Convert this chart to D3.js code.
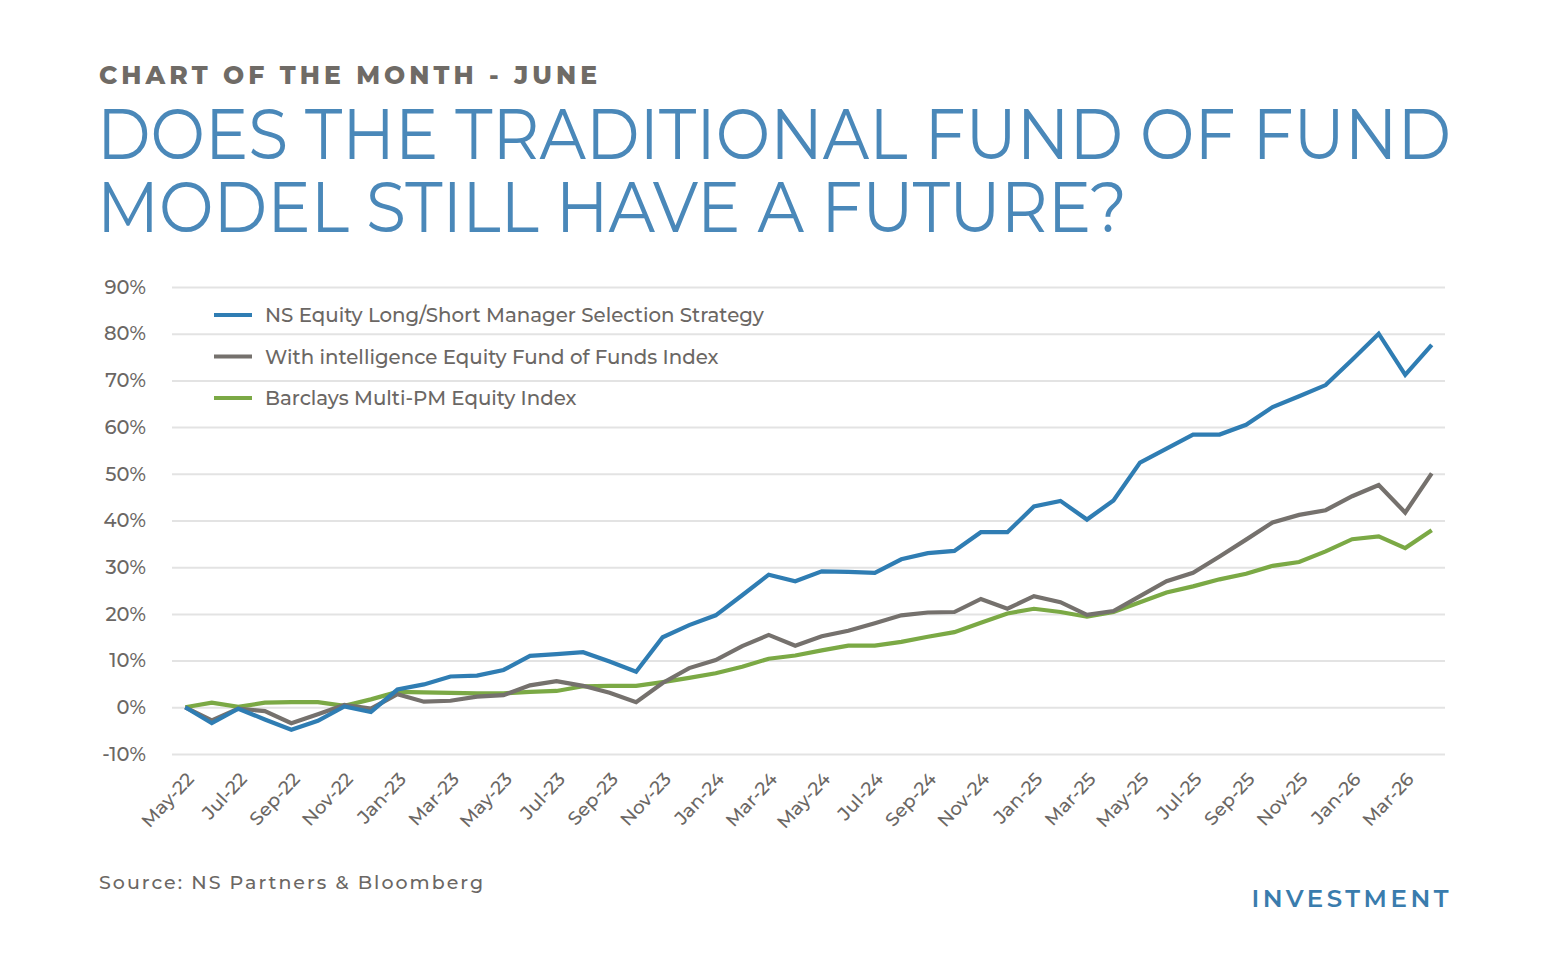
<!DOCTYPE html>
<html>
<head>
<meta charset="utf-8">
<script src="https://cdn.jsdelivr.net/npm/d3@7"></script>
<style>
  body { margin:0; background:#fff; }
  #chart svg { display:block; }
</style>
</head>
<body>
<div id="chart"></div>
<script>
// months May-22 .. Apr-26
const months = ["May-22","Jun-22","Jul-22","Aug-22","Sep-22","Oct-22","Nov-22","Dec-22",
  "Jan-23","Feb-23","Mar-23","Apr-23","May-23","Jun-23","Jul-23","Aug-23","Sep-23","Oct-23","Nov-23","Dec-23",
  "Jan-24","Feb-24","Mar-24","Apr-24","May-24","Jun-24","Jul-24","Aug-24","Sep-24","Oct-24","Nov-24","Dec-24",
  "Jan-25","Feb-25","Mar-25","Apr-25","May-25","Jun-25","Jul-25","Aug-25","Sep-25","Oct-25","Nov-25","Dec-25",
  "Jan-26","Feb-26","Mar-26","Apr-26"]

const nsStrategy = [0,-3.4,-0.3,-2.6,-4.8,-2.9,0.2,-1.0,3.8,4.9,6.6,6.8,8.0,11.0,11.4,11.8,9.8,7.6,
  15.0,17.6,19.7,24.0,28.4,27.0,29.1,29.0,28.8,31.7,33.0,33.5,37.5,37.5,43.0,44.2,40.2,44.3,
  52.4,55.4,58.4,58.4,60.5,64.3,66.6,69.0,74.4,80.0,71.2,77.6]

const withIntelligence = [0,-2.8,-0.3,-0.8,-3.4,-1.5,0.5,-0.3,2.8,1.2,1.4,2.3,2.6,4.7,5.6,4.6,3.1,1.1,
  5.2,8.4,10.1,13.1,15.5,13.2,15.2,16.4,18.0,19.7,20.3,20.4,23.2,21.1,23.8,22.5,19.8,20.6,
  23.8,27.0,28.8,32.3,35.9,39.6,41.2,42.2,45.2,47.6,41.7,50.1]

const barclays = [0,1.0,0.1,1.0,1.1,1.1,0.3,1.7,3.3,3.2,3.1,3.0,3.0,3.3,3.5,4.5,4.6,4.6,
  5.4,6.3,7.3,8.7,10.4,11.1,12.2,13.2,13.2,14.0,15.1,16.1,18.1,20.1,21.1,20.4,19.4,20.4,
  22.5,24.6,25.9,27.4,28.6,30.3,31.1,33.4,36.0,36.6,34.1,37.9]

const yTicks = [-10,0,10,20,30,40,50,60,70,80,90]
const xTickLabels = months.filter((d,i)=>i%2===0 && i<47)

const seriesNames = ["NS Equity Long/Short Manager Selection Strategy",
  "With intelligence Equity Fund of Funds Index",
  "Barclays Multi-PM Equity Index"]
const seriesColors = ["#2f7db3","#75716d","#7ba945"]

const render = ()=>{
const width = 1550
const height = 970
const margin = { top: 287, bottom: 216, left: 172, right: 105 }
const innerWidth = width - margin.left - margin.right
const innerHeight = height - margin.top - margin.bottom
const font = "Montserrat, Lato, 'Open Sans', sans-serif"
const textGrey = "#6b6764"

const svg = d3.select('#chart').append('svg')
  .attr('width', width).attr('height', height)
  .style('font-family', font)

// header
svg.append('text')
  .text("CHART OF THE MONTH - JUNE")
  .attr('x', 99).attr('y', 84)
  .attr('fill', '#6f6b66')
  .attr('font-size', 25).attr('font-weight', 800)
  .attr('textLength', 498).attr('lengthAdjust', 'spacing')

const titleLines = ["DOES THE TRADITIONAL FUND OF FUND", "MODEL STILL HAVE A FUTURE?"]
const titleWidths = [1354, 1030]
titleLines.forEach((t,i)=>{
  svg.append('text')
    .text(t)
    .attr('x', 97).attr('y', 159 + i*73)
    .attr('fill', '#4a88b9')
    .attr('font-size', 71).attr('font-weight', 400)
    .attr('textLength', titleWidths[i]).attr('lengthAdjust', 'spacingAndGlyphs')
})

const g = svg.append('g')
  .attr('transform', `translate(${margin.left},${margin.top})`)

const xScale = d3.scalePoint()
  .domain(months)
  .range([0, innerWidth])
  .padding(0.5)

const yScale = d3.scaleLinear()
  .domain([-10, 90])
  .range([innerHeight, 0])

// y axis with grid lines
const yAxis = d3.axisLeft(yScale)
  .tickValues(yTicks)
  .tickSize(-innerWidth)
  .tickPadding(26)
  .tickFormat(d=>d+"%")

const yAxisGroup = g.append('g').call(yAxis)
yAxisGroup.select('.domain').remove()
yAxisGroup.selectAll('line').attr('stroke', '#e3e3e3').attr('stroke-width', 2)
yAxisGroup.selectAll('text')
  .attr('fill', textGrey).attr('font-size', 19.5).attr('font-weight', 500)
  .attr('font-family', font)

// x axis, labels only
const xAxis = d3.axisBottom(xScale)
  .tickValues(xTickLabels)
  .tickSize(0)

const xAxisGroup = g.append('g')
  .attr('transform', `translate(0,${innerHeight})`)
  .call(xAxis)
xAxisGroup.select('.domain').remove()
xAxisGroup.selectAll('text')
  .attr('fill', textGrey).attr('font-size', 18.5).attr('font-weight', 500)
  .attr('font-family', font)
  .attr('text-anchor', 'end')
  .attr('dy', 0)
  .attr('transform', 'translate(7,24) rotate(-47)')

// lines
const allSeries = [nsStrategy, withIntelligence, barclays]
const line = d3.line()
  .x((d,i)=>xScale(months[i]))
  .y(d=>yScale(d))

// draw bottom-up so blue is on top
;[2,1,0].forEach(k=>{
  g.append('path')
    .datum(allSeries[k])
    .attr('d', line)
    .attr('fill', 'none')
    .attr('stroke', seriesColors[k])
    .attr('stroke-width', 4.2)
    .attr('stroke-linejoin', 'miter')
})

// legend
const legend = svg.append('g')
  .attr('transform', 'translate(214,315)')
seriesNames.forEach((name,i)=>{
  const row = legend.append('g').attr('transform', `translate(0,${i*41.5})`)
  row.append('line')
    .attr('x1', 0).attr('x2', 38)
    .attr('stroke', seriesColors[i]).attr('stroke-width', 4)
  row.append('text')
    .text(name)
    .attr('x', 51).attr('y', 7)
    .attr('fill', textGrey).attr('font-size', 19.8).attr('font-weight', 500)
})

// footer
svg.append('text')
  .text("Source: NS Partners & Bloomberg")
  .attr('x', 99).attr('y', 889)
  .attr('fill', textGrey).attr('font-size', 19).attr('font-weight', 500)
  .attr('textLength', 384).attr('lengthAdjust', 'spacing')

svg.append('text')
  .text("INVESTMENT")
  .attr('x', 1452).attr('y', 907)
  .attr('text-anchor', 'end')
  .attr('fill', '#3a7cad').attr('font-size', 24.5).attr('font-weight', 600)
  .attr('letter-spacing', 3.5)
}

render()
</script>
</body>
</html>
